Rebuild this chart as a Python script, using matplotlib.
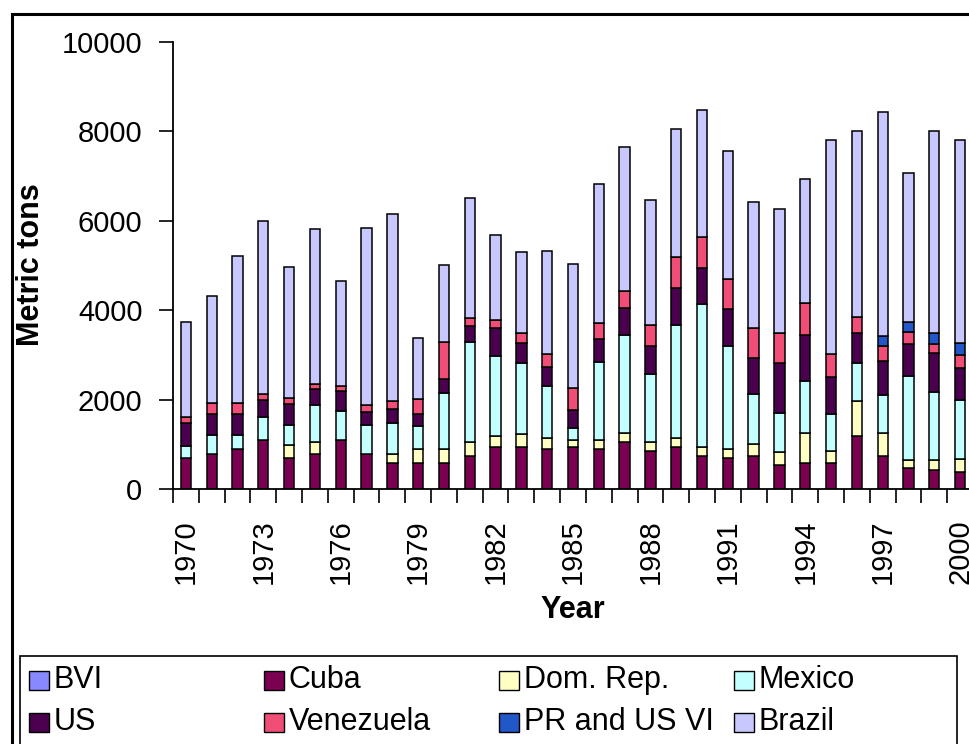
import numpy as np
import matplotlib.pyplot as plt
from matplotlib.patches import Rectangle

plt.rcParams['font.family'] = ['Liberation Sans', 'DejaVu Sans']

# Desembarques anuales por origen (toneladas métricas), 1970-2000
years = list(range(1970, 2001))

bvi = [0] * 31
cuba = [690, 790, 900, 1090, 690, 780, 1090, 780, 590, 590, 590, 740, 940, 940, 900, 940,
        900, 1060, 860, 940, 730, 690, 730, 540, 580, 580, 1180, 730, 460, 420, 390]
dom_rep = [0, 0, 0, 0, 290, 270, 0, 0, 190, 310, 310, 310, 240, 280, 230, 160,
           190, 190, 190, 190, 210, 200, 280, 280, 670, 280, 780, 520, 190, 230, 270]
mexico = [280, 420, 300, 510, 460, 830, 650, 660, 700, 500, 1240, 2230, 1790, 1600, 1170, 270,
          1760, 2200, 1520, 2540, 3200, 2310, 1120, 890, 1170, 820, 860, 860, 1880, 1530, 1320]
us = [510, 470, 470, 390, 470, 360, 450, 290, 320, 280, 330, 360, 630, 450, 440, 400,
      510, 590, 640, 830, 800, 830, 790, 1100, 1020, 830, 670, 750, 710, 870, 720]
venezuela = [140, 250, 250, 130, 130, 120, 110, 140, 160, 330, 820, 190, 190, 220, 280, 480,
             360, 400, 470, 680, 700, 670, 680, 670, 720, 510, 360, 350, 280, 190, 300]
pr_usvi = [0] * 27 + [220, 210, 250, 260]
brazil = [2120, 2390, 3300, 3880, 2930, 3450, 2360, 3980, 4190, 1370, 1730, 2690, 1900, 1810, 2310, 2780,
          3110, 3210, 2790, 2870, 2830, 2860, 2830, 2790, 2780, 4790, 4160, 5000, 3330, 4530, 4550]

nombres = ['BVI', 'Cuba', 'Dom. Rep.', 'Mexico', 'US', 'Venezuela', 'PR and US VI', 'Brazil']
series = [bvi, cuba, dom_rep, mexico, us, venezuela, pr_usvi, brazil]
colores = ['#8888ff', '#7b0052', '#ffffc4', '#c4ffff', '#4b004f', '#f04e76', '#2157c8', '#c8c8ff']

fig = plt.figure(figsize=(9.7, 7.44), dpi=100)
W, H = 970, 744

# ejes en coordenadas de pixel
ax = fig.add_axes([173 / W, 1 - 489 / H, 800 / W, 447 / H])

x = np.arange(len(years))
base = np.zeros(len(years))
for nombre, s, c in zip(nombres, series, colores):
    ax.bar(x, s, width=0.4, bottom=base, color=c, edgecolor='black', linewidth=1.1, label=nombre)
    base += np.array(s)

ax.set_xlim(-0.5, len(years) - 0.5)
ax.set_ylim(0, 10000)
ax.set_yticks(range(0, 10001, 2000))
ax.tick_params(axis='y', labelsize=21, length=10, width=1.2, direction='out', pad=12)

# marcas entre categorías, etiquetas cada 3 años
ax.set_xticks(np.arange(-0.5, len(years)), [])
ax.set_xticks(x[::3], [str(a) for a in years[::3]], minor=True)
ax.tick_params(axis='x', which='major', length=10, width=1.2, direction='out')
ax.tick_params(axis='x', which='minor', length=0, labelsize=21, labelrotation=90, pad=22)

for lado in ['top', 'right']:
    ax.spines[lado].set_visible(False)
for lado in ['left', 'bottom']:
    ax.spines[lado].set_linewidth(1.3)

fig.text(31 / W, 1 - 265 / H, 'Metric tons', rotation=90, fontsize=22, fontweight='bold',
         ha='center', va='center')
fig.text(573 / W, 1 - 610 / H, 'Year', fontsize=22, fontweight='bold', ha='center', va='center')

# marco exterior del gráfico
fig.patches.append(Rectangle((12 / W, -0.05), 1.1, 1 - 14 / H + 0.05, transform=fig.transFigure,
                             fill=False, edgecolor='black', linewidth=2.2, clip_on=False))

# leyenda en columnas fijas
fig.patches.append(Rectangle((20 / W, -0.05), 937 / W, 1 - 656 / H + 0.05, transform=fig.transFigure,
                             fill=False, edgecolor='black', linewidth=1.2, clip_on=False))
col_x = [29, 264, 499, 734]
fila_y = [680, 722]
for i, (nombre, c) in enumerate(zip(nombres, colores)):
    sx = col_x[i % 4]
    ty = fila_y[i // 4]
    fig.patches.append(Rectangle((sx / W, 1 - (ty + 9.5) / H), 20 / W, 19 / H,
                                 transform=fig.transFigure, facecolor=c, edgecolor='black',
                                 linewidth=1.0))
    fig.text((sx + 25) / W, 1 - ty / H, nombre, fontsize=22, ha='left', va='center')

plt.savefig('out.png', dpi=100)
